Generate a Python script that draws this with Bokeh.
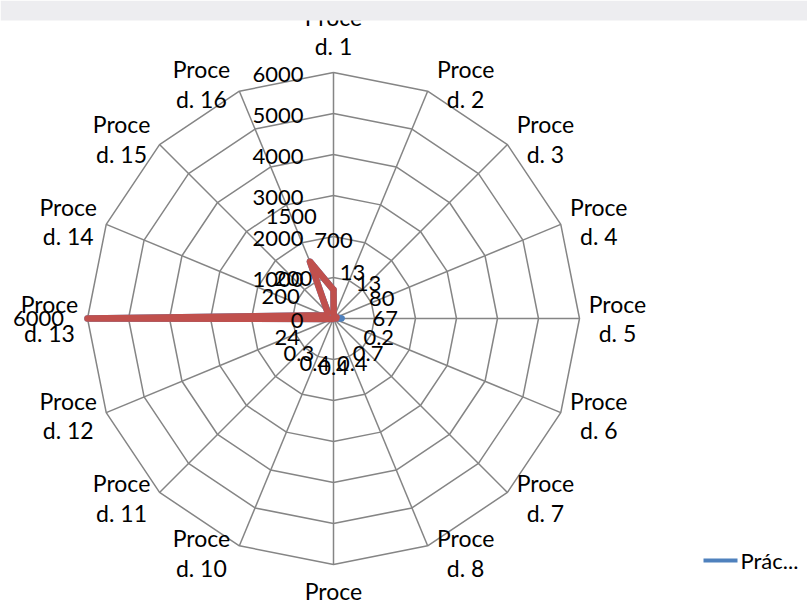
import math

from bokeh.plotting import figure
from bokeh.models import Range1d, ColumnDataSource
from bokeh.core.properties import value
from bokeh.embed import file_html
from bokeh.resources import INLINE

# ---- data -------------------------------------------------------------
categories = [f"Proced. {i}" for i in range(1, 17)]
radial_ticks = [0, 1000, 2000, 3000, 4000, 5000, 6000]
series_a_name = "Prác..."
series_a = [700, 13, 13, 80, 200, 0.2, 0.7, 0.4, 0.4, 0.4, 0.3, 24, 6000, 200, 200, 1500]
series_b = [700, 13, 13, 80, 67, 0.2, 0.7, 0.4, 0.4, 0.4, 0.3, 24, 6000, 200, 200, 1500]

# ---- layout -----------------------------------------------------------
W, H = 807, 604
CX, CY = 333, 318          # centre of the web, px from top-left
R_PX = 246                 # outer ring radius in px
RMAX = radial_ticks[-1]
S = RMAX / R_PX            # data units per pixel

FONT = value("Lato")
GRID = "#858585"
BLUE = "#4F81BD"
RED = "#C0504D"

p = figure(
    width=W, height=H,
    x_range=Range1d(-CX * S, (W - CX) * S),
    y_range=Range1d(-(H - CY) * S, CY * S),
    x_axis_type=None, y_axis_type=None,
    toolbar_location=None, output_backend="svg",
    min_border=0, outline_line_color=None,
    background_fill_color="white", border_fill_color="white",
)
p.grid.visible = False

n = len(categories)
angles = [math.radians(90 - i * 360 / n) for i in range(n)]
cosv = [math.cos(a) for a in angles]
sinv = [math.sin(a) for a in angles]

# rings
ring_xs, ring_ys = [], []
for t in radial_ticks[1:]:
    ring_xs.append([t * c for c in cosv] + [t * cosv[0]])
    ring_ys.append([t * s for s in sinv] + [t * sinv[0]])
p.multi_line(ring_xs, ring_ys, line_color=GRID, line_width=1.5)

# spokes
p.segment(x0=[0] * n, y0=[0] * n,
          x1=[RMAX * c for c in cosv], y1=[RMAX * s for s in sinv],
          line_color=GRID, line_width=1.5)

# series polygons
def closed(vals):
    xs = [v * c for v, c in zip(vals, cosv)]
    ys = [v * s for v, s in zip(vals, sinv)]
    return xs + xs[:1], ys + ys[:1]

ax, ay = closed(series_a)
p.line(ax, ay, line_color=BLUE, line_width=6.5, line_join="round", line_cap="round")
bx, by = closed(series_b)
p.line(bx, by, line_color=RED, line_width=6.5, line_join="round", line_cap="round")

# radial axis labels, right-aligned beside the first spoke
p.text(x=[-30 * S] * len(radial_ticks), y=[t - 2 * S for t in radial_ticks],
       text=[str(t) for t in radial_ticks],
       text_font=FONT, text_font_size="22px", text_color="black",
       text_align="right", text_baseline="middle")

# value labels, floated outward from each point
off = 49 * S
lab = ColumnDataSource(dict(
    x=[(v + off) * c for v, c in zip(series_b, cosv)],
    y=[(v + off) * s for v, s in zip(series_b, sinv)],
    t=[f"{v:g}" for v in series_b],
))
p.text(x="x", y="y", text="t", source=lab,
       text_font=FONT, text_font_size="22px", text_color="black",
       text_align="center", text_baseline="middle")

# category labels, wrapped like the narrow label boxes
cat_x, cat_y, cat_t = [], [], []
for name, c, s in zip(categories, cosv, sinv):
    vx, vy = RMAX * c, RMAX * s
    if abs(c) < 0.05:
        dx, dy = 0, 41 * (1 if s > 0 else -1)
    else:
        dx, dy = 38 * (1 if c > 0 else -1), 8 * s
    cat_x.append(vx + dx * S)
    cat_y.append(vy + dy * S)
    cat_t.append(name[:5] + "\n" + name[5:])
p.text(x=cat_x, y=cat_y, text=cat_t,
       text_font=FONT, text_font_size="23px", text_color="black",
       text_align="center", text_baseline="middle", text_line_height=1.05)

# legend entry
ly = (CY - 560) * S
p.line([(703 - CX) * S, (737 - CX) * S], [ly, ly], line_color=BLUE, line_width=4)
p.text(x=[(740 - CX) * S], y=[ly], text=[series_a_name],
       text_font=FONT, text_font_size="22px", text_color="black",
       text_align="left", text_baseline="middle")

# light band across the top edge
p.quad(left=-CX * S, right=(W - CX) * S, top=CY * S, bottom=(CY - 20) * S,
       fill_color="#EDEDF0", line_color=None)

open("out.html", "w").write(file_html(p, INLINE))
